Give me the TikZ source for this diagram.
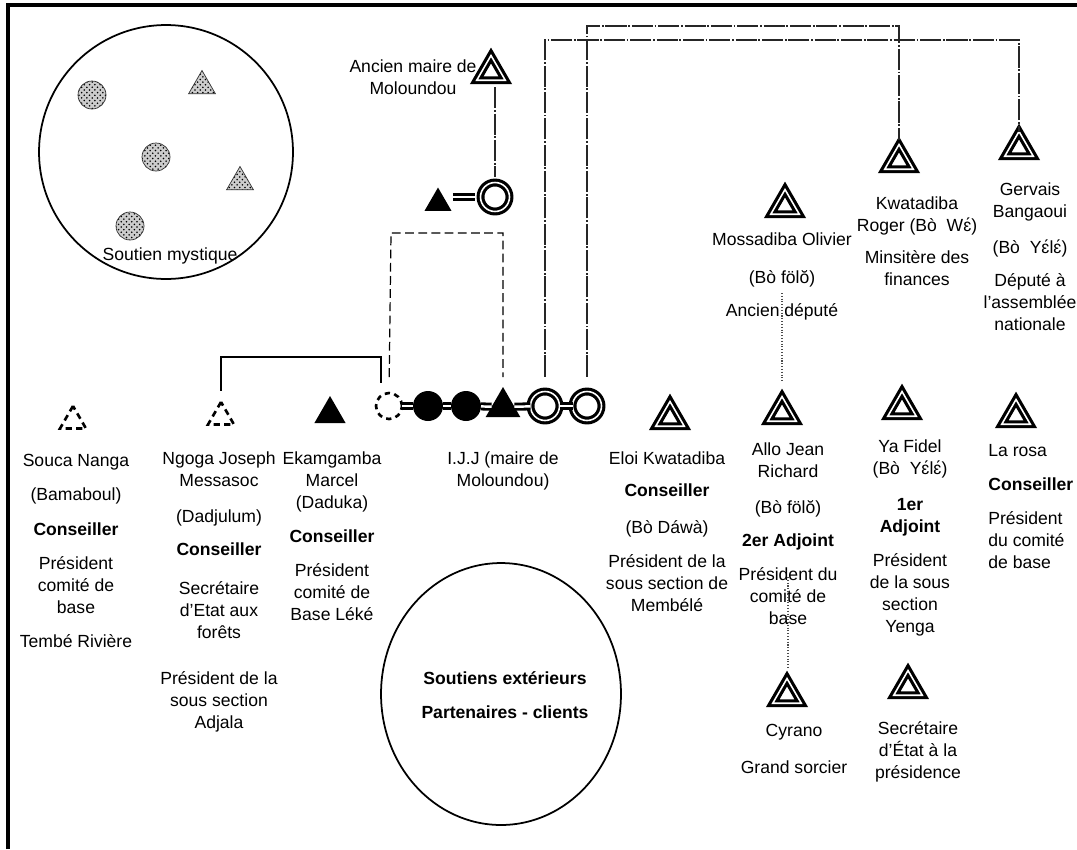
\documentclass[tikz,border=0pt]{standalone}
\usepackage{fontspec}
\setmainfont{Liberation Sans}
\usetikzlibrary{shapes.geometric,patterns,calc}

\begin{document}
\begin{tikzpicture}[
    x=0.02cm, y=-0.02cm,
    txt/.style={align=center, inner sep=0pt, anchor=north, font=\fontsize{10}{12.5}\selectfont},
    man/.style={regular polygon, regular polygon sides=3, draw, double, line width=1.8pt, double distance=0.9pt, minimum size=0.66cm, inner sep=0pt, outer sep=0pt},
    woman/.style={circle, draw, double, line width=1.8pt, double distance=0.9pt, minimum size=0.58cm, inner sep=0pt, outer sep=0pt},
    manfill/.style={regular polygon, regular polygon sides=3, fill=black, minimum size=0.8cm, inner sep=0pt, outer sep=0pt},
    womanfill/.style={circle, fill=black, minimum size=0.6cm, inner sep=0pt, outer sep=0pt},
    mandash/.style={regular polygon, regular polygon sides=3, draw, line width=1.5pt, dash pattern=on 3.5pt off 2.5pt, minimum size=0.6cm, inner sep=0pt, outer sep=0pt},
    womandash/.style={circle, draw, line width=1.5pt, dash pattern=on 3pt off 2.5pt, minimum size=0.52cm, inner sep=0pt, outer sep=0pt},
    spirit/.style={draw=black!80, line width=0.4pt, preaction={fill=black!20}, pattern=crosshatch dots, inner sep=0pt},
    couple/.style={double, line width=1.6pt, double distance=1.4pt},
    link/.style={line width=0.9pt, black!85, dash pattern=on 12pt off 1pt on 1pt off 1pt},
    linkdash/.style={line width=0.7pt, dash pattern=on 5pt off 2.5pt},
    kin/.style={line width=0.8pt},
    dotl/.style={line width=0.6pt, black!70, densely dotted}
]
\useasboundingbox (0,0) rectangle (1077,849);
\draw[line width=2pt] (8,849) -- (8,5) -- (1077,5);

% soutien mystique
\node[circle, draw, line width=1pt, minimum size=5.08cm] (mystic) at (166,152) {};
\node[spirit, circle, minimum size=0.56cm] (sp1) at (92,95) {};
\node[spirit, circle, minimum size=0.56cm] (sp2) at (156,157) {};
\node[spirit, circle, minimum size=0.56cm] (sp3) at (130,226) {};
\node[spirit, regular polygon, regular polygon sides=3, minimum size=0.62cm] (sp4) at (202,86) {};
\node[spirit, regular polygon, regular polygon sides=3, minimum size=0.62cm] (sp5) at (240,182) {};
\node[txt, anchor=center] (mystlbl) at (170,256) {Soutien mystique};

% ascendants
\node[man] (tmaire) at (491,72) {};
\node[txt] (maire) at (413,59) {Ancien maire de\\Moloundou};
\node[manfill, minimum size=0.62cm] (ttop) at (438,203) {};
\node[woman] (ringtop) at (495,197) {};

% ligne principale
\node[womandash] (dashc) at (389,406) {};
\node[womanfill] (f1) at (428,406) {};
\node[womanfill] (f2) at (466,406) {};
\node[manfill] (ijj) at (503,407) {};
\node[woman] (ring1) at (545,406) {};
\node[woman] (ring2) at (587,406) {};

\node[mandash] (souca) at (73,421) {};
\node[mandash] (ngoga) at (221,417) {};
\node[manfill, minimum size=0.72cm] (ekam) at (330,414) {};
\node[man] (eloi) at (670,418) {};
\node[man] (allo) at (782,413) {};
\node[man] (fidel) at (902,408) {};
\node[man] (rosa) at (1016,416) {};
\node[man] (cyrano) at (787,695) {};
\node[man] (secr) at (908,687) {};
\node[man] (mossa) at (785,206) {};
\node[man] (kwata) at (899,161) {};
\node[man] (gerv) at (1019,148) {};

\node[txt] (soucalbl) at (76,454) {Souca Nanga\\[7pt](Bamaboul)\\[7pt]\textbf{Conseiller}\\[7pt]Président\\comité de\\base\\[7pt]Tembé Rivière};
\node[txt] (ngogalbl) at (219,451) {Ngoga Joseph\\Messasoc\\[8.5pt](Dadjulum)\\[6pt]\textbf{Conseiller}\\[9.5pt]Secrétaire\\d’Etat aux\\forêts\\[14pt]Président de la\\sous section\\Adjala};
\node[txt] (ekamlbl) at (332,451) {Ekamgamba\\Marcel\\(Daduka)\\[7pt]\textbf{Conseiller}\\[7pt]Président\\comité de\\Base Léké};
\node[txt] (ijjlbl) at (503,451) {I.J.J (maire de\\Moloundou)};
\node[txt] (eloilbl) at (667,451) {Eloi Kwatadiba\\[6pt]\textbf{Conseiller}\\[8.5pt](Bò Dáwà)\\[7pt]Président de la\\sous section de\\Membélé};
\node[txt] (allolbl) at (788,442) {Allo Jean\\Richard\\[8.5pt](Bò fölŏ)\\[6pt]\textbf{2er Adjoint}\\[7pt]Président du\\comité de\\base};
\node[txt] (fidellbl) at (910,439) {Ya Fidel\\(Bò\ \ Yɛ́lɛ́)\\[8pt]\textbf{1er}\\\textbf{Adjoint}\\[7pt]Président\\de la sous\\section\\Yenga};
\node[txt, anchor=north west, align=left] (rosalbl) at (988,444) {La rosa\\[7pt]\textbf{Conseiller}\\[7pt]Président\\du comité\\de base};
\node[txt] (cyranolbl) at (794,724) {Cyrano\\[8.5pt]Grand sorcier};
\node[txt] (secrlbl) at (918,721) {Secrétaire\\d’État à la\\présidence};
\node[txt] (mossalbl) at (782,232) {Mossadiba Olivier\\[9.5pt](Bò fölŏ)\\[6pt]Ancien député};
\node[txt] (kwatalbl) at (917,196) {Kwatadiba\\Roger (Bò\ \ Wɛ́)\\[6pt]Minsitère des\\finances};
\node[txt] (gervlbl) at (1030,182) {Gervais\\Bangaoui\\[8pt](Bò\ \ Yɛ́lɛ́)\\[6.5pt]Député à\\l’assemblée\\nationale};

% soutiens exterieurs
\node[ellipse, draw, line width=1pt, minimum width=4.8cm, minimum height=5.24cm] (ext) at (501,694) {};
\node[txt] (extlbl) at (505,671) {\textbf{Soutiens extérieurs}\\[7pt]\textbf{Partenaires - clients}};

% alliances
\draw[couple, shorten <=1.2mm, shorten >=1.2mm] (ringtop.west -| ttop.east) -- (ringtop.west);
\draw[couple] (dashc) -- (f1);
\draw[couple] (f1) -- (f2);
\draw[couple] (f2) -- (ijj);
\draw[couple] (ijj) -- (ring1);
\draw[couple] (ring1) -- (ring2);

% filiations
\coordinate (hiA) at (0,40);
\coordinate (hiB) at (0,26);
\coordinate (boxL) at (391,233);
\coordinate (brk) at (381,357);
\coordinate (mossadrop) at (782,293);
\coordinate (allodrop) at (788,577);
\draw[link, shorten <=1.4mm, shorten >=1.2mm] (tmaire.south -| ringtop) -- (ringtop.north);
\draw[linkdash, shorten <=3.2mm, shorten >=2mm] (dashc.north) -- (boxL) -| (ijj.north);
\draw[link, shorten <=3mm] (ring1.north) -- (ring1.north |- hiA) -| (gerv.north);
\draw[link, shorten <=3mm, shorten >=1mm] (ring2.north) -- (ring2.north |- hiB) -| (kwata.north);
\draw[kin, shorten <=2.3mm, shorten >=2mm] (ngoga.north) |- (brk) -- (brk |- dashc.north);
\draw[dotl, shorten >=2.8mm] (mossadrop) -- (allo.north);
\draw[dotl, shorten >=2.3mm] (allodrop) -- (allodrop |- cyrano.north);
\end{tikzpicture}
\end{document}
